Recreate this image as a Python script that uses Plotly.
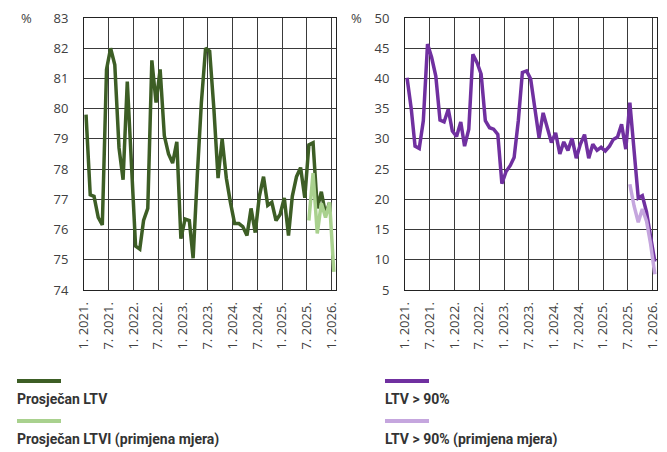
import plotly.graph_objects as go
import pandas as pd

W, H = 667, 452

months = pd.date_range("2021-01-01", periods=61, freq="MS")
tick_months = pd.date_range("2021-01-01", "2026-01-01", freq="6MS")
tick_labels = [f"{d.month}. {d.year}." for d in tick_months]

prosjecan_ltv = [79.8, 77.15, 77.1, 76.4, 76.15, 81.3, 82.0, 81.45, 78.7, 77.65,
                 80.9, 78.0, 75.45, 75.35, 76.3, 76.7, 81.6, 80.2, 81.3, 79.1,
                 78.5, 78.2, 78.9, 75.7, 76.35, 76.3, 75.05, 77.8, 80.2, 82.0,
                 81.9, 80.0, 77.7, 79.0, 77.7, 76.9, 76.2, 76.2, 76.1, 75.8,
                 76.7, 75.9, 77.1, 77.75, 76.8, 76.9, 76.3, 76.5, 77.05, 75.8,
                 77.1, 77.75, 78.05, 77.05, 78.8, 78.87, 76.7, 77.25, 76.5, 76.9,
                 None]
prosjecan_ltvi_mjera = [None] * 54 + [76.3, 77.87, 75.87, 76.87, 76.4, 76.9, 74.6]

ltv_90 = [40.1, 35.0, 28.8, 28.4, 33.0, 45.7, 43.5, 40.4, 33.1, 32.8,
          34.9, 31.3, 30.4, 32.8, 28.8, 31.6, 44.0, 42.6, 40.7, 33.0,
          31.85, 31.6, 30.75, 22.6, 24.6, 25.6, 26.9, 33.0, 41.0, 41.25,
          39.9, 35.0, 30.2, 34.3, 31.6, 29.4, 31.0, 27.5, 29.5, 28.1,
          30.1, 26.8, 29.1, 30.7, 26.8, 29.1, 28.1, 28.6, 28.0, 28.8,
          29.9, 30.3, 32.4, 28.3, 36.0, 27.5, 20.2, 20.6, 17.9, 13.8,
          9.7]
ltv_90_mjera = [None] * 54 + [22.5, 18.9, 16.2, 18.4, 16.4, 12.6, 7.6]

legend_left = ["Prosječan LTV", "Prosječan LTVI (primjena mjera)"]
legend_right = ["LTV > 90%", "LTV > 90% (primjena mjera)"]

C_DG, C_LG = "#3d5e25", "#a9d18e"
C_DP, C_LP = "#7030a0", "#c5a6de"

x_mid = months + pd.Timedelta(days=15)

fig = go.Figure()
fig.add_trace(go.Scatter(x=x_mid, y=prosjecan_ltv, mode="lines", line=dict(color=C_DG, width=3.5),
                         xaxis="x", yaxis="y", showlegend=False, hoverinfo="skip"))
fig.add_trace(go.Scatter(x=x_mid, y=prosjecan_ltvi_mjera, mode="lines", line=dict(color=C_LG, width=3.5),
                         xaxis="x", yaxis="y", showlegend=False, hoverinfo="skip"))
fig.add_trace(go.Scatter(x=x_mid, y=ltv_90, mode="lines", line=dict(color=C_DP, width=3.5),
                         xaxis="x2", yaxis="y2", showlegend=False, hoverinfo="skip"))
fig.add_trace(go.Scatter(x=x_mid, y=ltv_90_mjera, mode="lines", line=dict(color=C_LP, width=3.5),
                         xaxis="x2", yaxis="y2", showlegend=False, hoverinfo="skip"))

def px(xp):
    return xp / W

def py(yp):
    return 1 - yp / H

tickfont = dict(family="Open Sans, DejaVu Sans, sans-serif", size=13, color="#404040")
xcommon = dict(type="date", range=["2021-01-01", "2026-02-01"], tickmode="array",
               tickvals=list(tick_months), ticktext=tick_labels, tickangle=-90,
               showgrid=True, gridcolor="#3a3a3a", gridwidth=1, zeroline=False,
               showline=True, linecolor="#222222", linewidth=1, mirror=True, automargin=False,
               ticks="", tickfont=tickfont, ticklabelstandoff=6)
ycommon = dict(showgrid=True, gridcolor="#3a3a3a", gridwidth=1, zeroline=False,
               showline=True, linecolor="#222222", linewidth=1, mirror=True, automargin=False,
               ticks="", tickfont=tickfont, ticklabelstandoff=12)

fig.update_layout(
    width=W, height=H, margin=dict(l=0, r=0, t=0, b=0, autoexpand=False),
    paper_bgcolor="white", plot_bgcolor="white",
    xaxis=dict(domain=[px(84), px(336)], anchor="y", **xcommon),
    yaxis=dict(domain=[py(290), py(18)], anchor="x", range=[74, 83], dtick=1, **ycommon),
    xaxis2=dict(domain=[px(405), px(657)], anchor="y2", **xcommon),
    yaxis2=dict(domain=[py(290), py(18)], anchor="x2", range=[5, 50], dtick=5, **ycommon),
)

shapes = []
annotations = []
for xp in (26, 357):
    annotations.append(dict(x=px(xp), y=py(18), xref="paper", yref="paper", text="%",
                            showarrow=False, xanchor="center", yanchor="middle",
                            font=dict(family="Open Sans, DejaVu Sans, sans-serif", size=13, color="#404040")))

legfont = dict(family="Liberation Sans Narrow, Roboto, sans-serif", size=14, color="#333333")
for x0, labels, cols in ((17, legend_left, (C_DG, C_LG)), (385, legend_right, (C_DP, C_LP))):
    for k, (lab, col) in enumerate(zip(labels, cols)):
        yl = 381 + 40 * k
        shapes.append(dict(type="line", xref="paper", yref="paper", x0=px(x0), x1=px(x0 + 44),
                           y0=py(yl), y1=py(yl), line=dict(color=col, width=4)))
        annotations.append(dict(x=px(x0 - 2), y=py(yl + 18), xref="paper", yref="paper", text=f"<b>{lab}</b>",
                                showarrow=False, xanchor="left", yanchor="middle", font=legfont))

fig.update_layout(shapes=shapes, annotations=annotations)
fig.write_html("out.html", config={"displayModeBar": False},
               post_script="document.body.style.margin='0px';document.body.style.padding='0px';")
